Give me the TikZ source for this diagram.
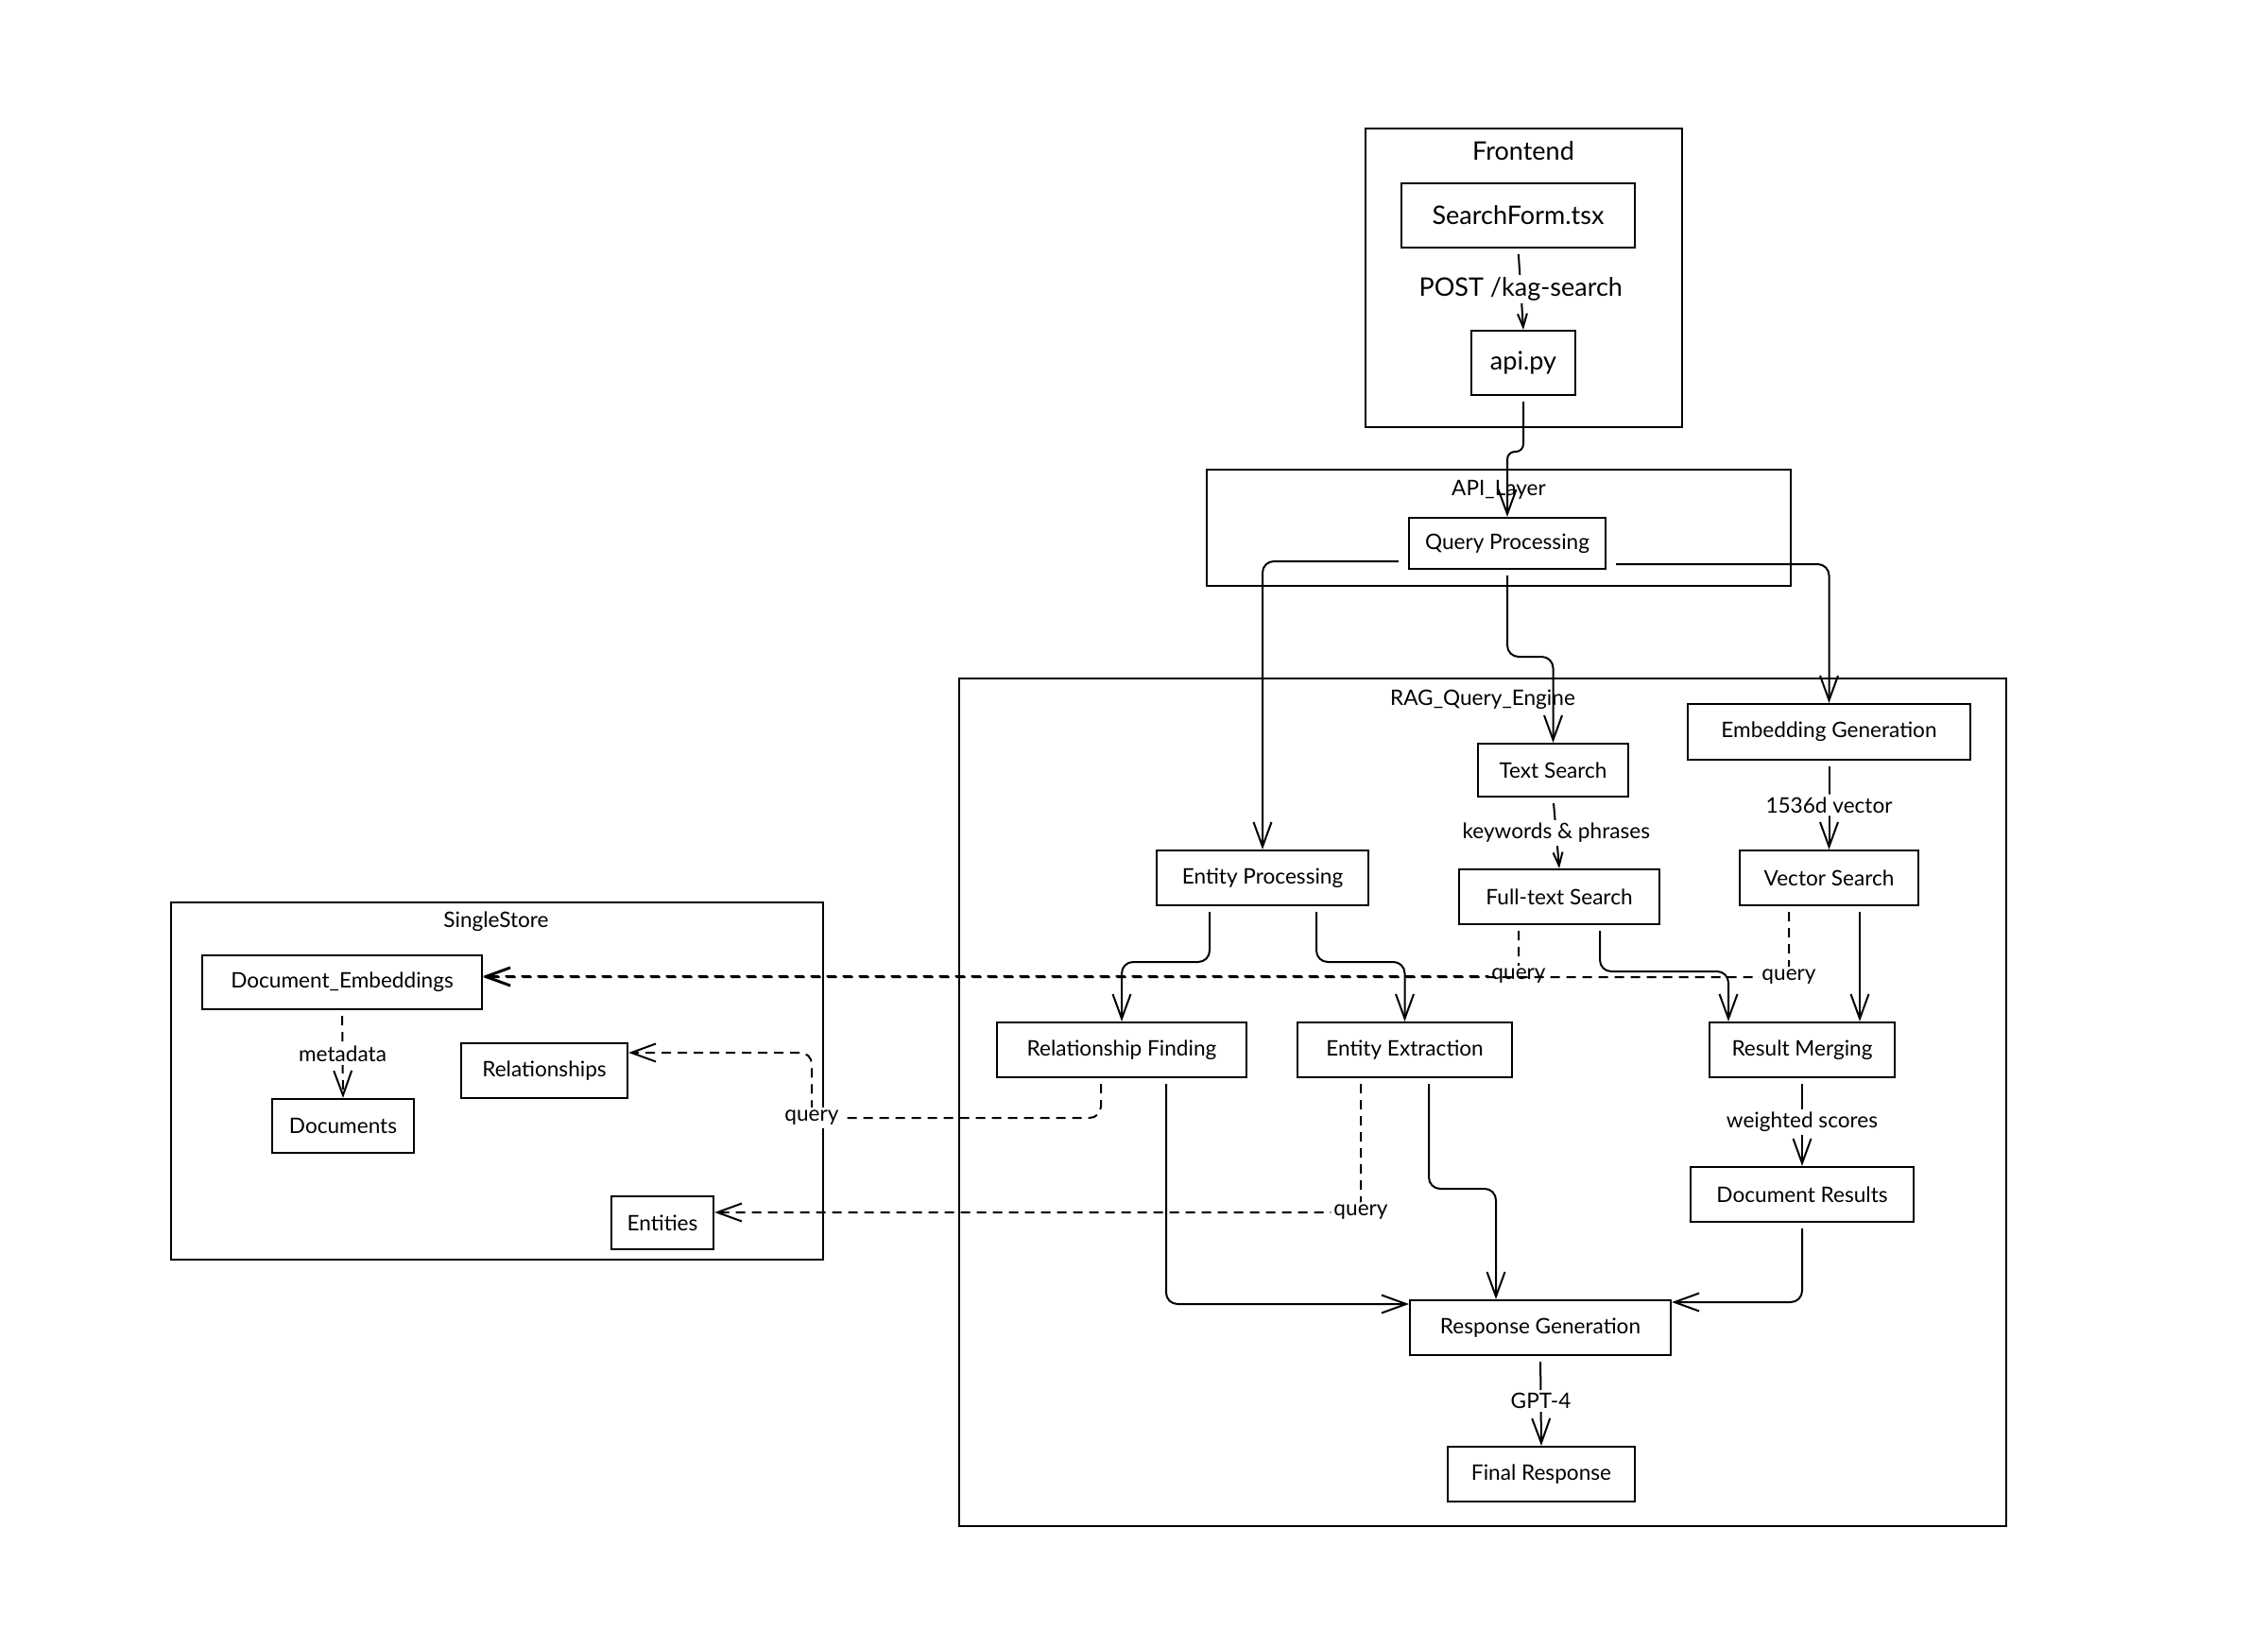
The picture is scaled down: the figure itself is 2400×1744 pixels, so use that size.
\documentclass[tikz,border=0pt]{standalone}
\usepackage{fontspec}
\setmainfont{Lato}
\usetikzlibrary{arrows.meta}
\begin{document}
\begin{tikzpicture}[x=1pt,y=-1pt,
  box/.style={draw, line width=2.2pt, rectangle, inner sep=0pt, font=\fontsize{22.6}{26}\selectfont},
  bigbox/.style={box, font=\fontsize{27}{32}\selectfont},
  cont/.style={draw, line width=2.6pt, rectangle, inner sep=0pt},
  ctitle/.style={inner sep=0pt, font=\fontsize{22.6}{26}\selectfont},
  bigtitle/.style={inner sep=0pt, font=\fontsize{27}{32}\selectfont},
  edge/.style={line width=2pt, rounded corners=12pt, shorten <=6pt, -{Straight Barb[length=26pt,width=19pt,line width=2pt]}},
  edgesm/.style={line width=2pt, shorten <=6pt, -{Straight Barb[length=14pt,width=10pt,line width=2pt]}},
  dedge/.style={edge, dash pattern=on 10pt off 7pt},
  lbl/.style={fill=white, inner sep=3pt, font=\fontsize{22.6}{26}\selectfont},
  biglbl/.style={fill=white, inner sep=3pt, font=\fontsize{27}{32}\selectfont}
]
\fill[white] (0,0) rectangle (2400,1744);
\useasboundingbox (0,0) rectangle (2400,1744);

% containers
\node[cont, minimum width=335pt, minimum height=316pt] (frontend) at (1612.5,294) {};
\node[bigtitle] (frontendT) at (1612,160) {Frontend};
\node[cont, minimum width=618pt, minimum height=123pt] (apilayer) at (1586,558.5) {};
\node[ctitle] (apilayerT) at (1586,518) {API\_Layer};
\node[cont, minimum width=1108pt, minimum height=897pt] (rag) at (1569,1166.5) {};
\node[ctitle] (ragT) at (1569,740) {RAG\_Query\_Engine};
\node[cont, minimum width=690pt, minimum height=378pt] (single) at (526,1144) {};
\node[ctitle] (singleT) at (525,975) {SingleStore};

% nodes
\node[bigbox, minimum width=247pt, minimum height=68pt] (SF) at (1606.5,228) {SearchForm.tsx};
\node[bigbox, minimum width=110pt, minimum height=68pt] (api) at (1612,384) {api.py};
\node[box, minimum width=208pt, minimum height=54pt] (QP) at (1595,575) {Query Processing};
\node[box, minimum width=299pt, minimum height=59pt] (EG) at (1935.5,774.5) {Embedding Generation};
\node[box, minimum width=159pt, minimum height=56pt] (TS) at (1643.5,815) {Text Search};
\node[box, minimum width=224pt, minimum height=58pt] (EP) at (1336,929) {Entity Processing};
\node[box, minimum width=212pt, minimum height=58pt] (FTS) at (1650,949) {Full-text Search};
\node[box, minimum width=189pt, minimum height=58pt] (VS) at (1935.5,929) {Vector Search};
\node[box, minimum width=264pt, minimum height=58pt] (RF) at (1187,1111) {Relationship Finding};
\node[box, minimum width=227pt, minimum height=58pt] (EE) at (1486.5,1111) {Entity Extraction};
\node[box, minimum width=196pt, minimum height=58pt] (RM) at (1907,1111) {Result Merging};
\node[box, minimum width=236pt, minimum height=58pt] (DR) at (1907,1264) {Document Results};
\node[box, minimum width=276pt, minimum height=58pt] (RG) at (1630,1405) {Response Generation};
\node[box, minimum width=198pt, minimum height=58pt] (FR) at (1631,1560) {Final Response};
\node[box, minimum width=296pt, minimum height=57pt] (DE) at (362,1039.5) {Document\_Embeddings};
\node[box, minimum width=176pt, minimum height=58pt] (Rel) at (576,1133) {Relationships};
\node[box, minimum width=150pt, minimum height=57pt] (Docs) at (363,1191.5) {Documents};
\node[box, minimum width=108pt, minimum height=56pt] (Ent) at (701,1294) {Entities};

% edges
\draw[edgesm] (SF.south) -- node[biglbl] (l1) {POST /kag-search} (api.north);
\draw[edge, rounded corners=8pt] (api.south) -- (1612,478) -- (1595,478) -- (QP.north);
\draw[edge] ([xshift=-4pt,yshift=-19pt]QP.west) -- (1336,594) -- (EP.north);
\draw[edge] (QP.south) -- (1595,695) -- (1643.5,695) -- (TS.north);
\draw[edge] ([xshift=4pt,yshift=-22pt]QP.east) -- (1935.5,597) -- (EG.north);
\draw[edge] (EG.south) -- node[lbl] (l2) {1536d vector} (VS.north);
\draw[edgesm] (TS.south) -- node[lbl] (l3) {keywords \& phrases} (FTS.north);
\draw[edge] ([xshift=-56pt]EP.south) -- (1280,1018) -- (1187,1018) -- (RF.north);
\draw[edge] ([xshift=57pt]EP.south) -- (1393,1018) -- (1486.5,1018) -- (EE.north);
\draw[dedge] ([xshift=-43pt]FTS.south) -- (1607,1033) node[lbl] (l4) {query} -- ([yshift=6.5pt]DE.east);
\draw[edge] ([xshift=43pt]FTS.south) -- (1693,1028) -- (1829,1028) -- ([xshift=-78pt]RM.north);
\draw[dedge] ([xshift=-42.5pt]VS.south) -- (1893,1034) node[lbl] (l5) {query} -- ([yshift=5.5pt]DE.east);
\draw[edge] ([xshift=32.5pt]VS.south) -- ([xshift=61pt]RM.north);
\draw[edge] (RM.south) -- node[lbl] (l6) {weighted scores} (DR.north);
\draw[dedge] ([xshift=-22pt]RF.south) -- (1165,1183) -- (859,1183) node[lbl] (l7) {query} -- (859,1114) -- ([yshift=19pt]Rel.east);
\draw[edge] ([xshift=47pt]RF.south) -- (1234,1380) -- ([yshift=25pt]RG.west);
\draw[dedge] ([xshift=-46.5pt]EE.south) -- (1440,1283) node[lbl] (l8) {query} -- ([yshift=11pt]Ent.east);
\draw[edge] ([xshift=25.5pt]EE.south) -- (1512,1258) -- (1583,1258) -- ([xshift=-47pt]RG.north);
\draw[edge] (DR.south) -- (1907,1378) -- ([yshift=27pt]RG.east);
\draw[edge] (RG.south) -- node[lbl] (l9) {GPT-4} (FR.north);
\draw[dedge] (DE.south) -- node[lbl] (l10) {metadata} (Docs.north);
\end{tikzpicture}
\end{document}
